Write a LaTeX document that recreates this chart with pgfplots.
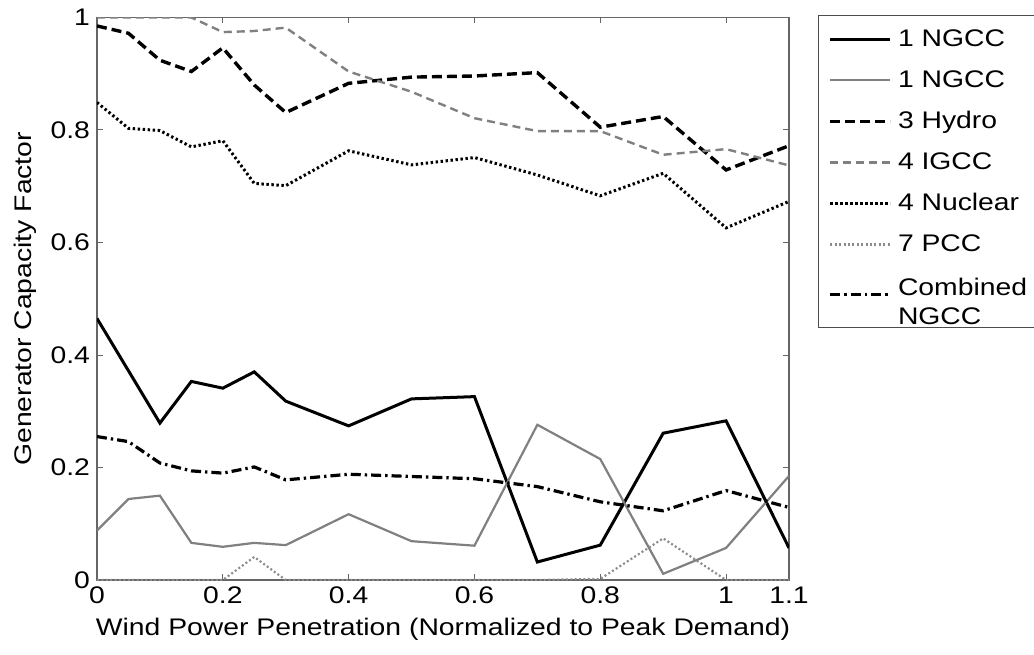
\documentclass[border=0pt]{standalone}
\usepackage{pgfplots}
\pgfplotsset{compat=1.18}
\usepackage{pgfplotstable}
\usepackage{fontspec}
\setmainfont{Liberation Sans}[FakeStretch=1.18]

\pgfplotstableread{
x     ngccA  ngccB  hydro  igcc   nuc    pcc    comb
0     0.465  0.088  0.985  1.000  0.849  0.000  0.255
0.05  0.372  0.144  0.972  1.000  0.803  0.000  0.246
0.1   0.279  0.150  0.924  1.000  0.799  0.000  0.208
0.15  0.353  0.066  0.904  1.000  0.770  0.000  0.194
0.2   0.341  0.059  0.946  0.974  0.781  0.000  0.190
0.25  0.370  0.066  0.880  0.976  0.705  0.041  0.201
0.3   0.318  0.062  0.831  0.982  0.701  0.000  0.178
0.4   0.274  0.117  0.883  0.904  0.763  0.000  0.188
0.5   0.322  0.069  0.894  0.868  0.738  0.000  0.184
0.6   0.326  0.061  0.896  0.821  0.751  0.000  0.180
0.7   0.032  0.276  0.902  0.798  0.720  0.000  0.166
0.8   0.062  0.215  0.805  0.798  0.683  0.002  0.139
0.9   0.261  0.011  0.824  0.756  0.723  0.074  0.123
1.0   0.283  0.057  0.729  0.766  0.626  0.000  0.159
1.1   0.057  0.185  0.772  0.737  0.673  0.000  0.129
}\datatable

\begin{document}
\begin{tikzpicture}
\begin{axis}[
  width=346pt, height=281.25pt, scale only axis,
  xmin=0, xmax=1.1, ymin=0, ymax=1,
  font=\fontsize{12}{14.4}\selectfont,
  /pgf/number format/assume math mode=true,
  xtick={0,0.2,0.4,0.6,0.8,1,1.1},
  xticklabels={0,0.2,0.4,0.6,0.8,1,1.1},
  ytick={0,0.2,0.4,0.6,0.8,1},
  yticklabels={0,0.2,0.4,0.6,0.8,1},
  tick align=inside,
  major tick length=3pt,
  tick style={black!60, line width=0.5pt},
  axis line style={black!60, line width=0.6pt},
  xlabel={Wind Power Penetration (Normalized to Peak Demand)},
  ylabel={Generator Capacity Factor},
  legend cell align=left,
  legend image code/.code={\draw[#1] (0pt,0pt) -- (30pt,0pt); \path (31pt,0pt);},
  legend style={at={(1,1)}, anchor=north west, xshift=14.5pt, yshift=1.25pt,
    draw=black!70, line width=0.6pt, inner xsep=5pt, inner ysep=5pt, row sep=6.5pt,
    font=\fontsize{12}{14.4}\selectfont},
]
\addplot[black, line width=1.5pt] table[x=x,y=ngccA] {\datatable};
\addlegendentry{1 NGCC}
\addplot[black!50, line width=1.1pt] table[x=x,y=ngccB] {\datatable};
\addlegendentry{1 NGCC}
\addplot[black, line width=1.7pt, dash pattern=on 5pt off 2.5pt] table[x=x,y=hydro] {\datatable};
\addlegendentry{3 Hydro}
\addplot[black!50, line width=1.2pt, dash pattern=on 4pt off 2.5pt] table[x=x,y=igcc] {\datatable};
\addlegendentry{4 IGCC}
\addplot[black, line width=1.5pt, dash pattern=on 1.2pt off 1.3pt] table[x=x,y=nuc] {\datatable};
\addlegendentry{4 Nuclear}
\addplot[black!45, line width=1.1pt, dash pattern=on 1pt off 1.2pt] table[x=x,y=pcc] {\datatable};
\addlegendentry{7 PCC}
\addplot[black, line width=1.6pt, dash pattern=on 5pt off 2pt on 1.2pt off 2pt] table[x=x,y=comb] {\datatable};
\addlegendentry{\raisebox{0pt}[\height][0pt]{\begin{tabular}{@{}l@{}}Combined\hspace{20pt}\\NGCC\end{tabular}}}
\end{axis}
\pgfresetboundingbox
\path[use as bounding box] ([shift={(-48.5pt,-37pt)}]current axis.south west) rectangle ++(517pt,327pt);
\end{tikzpicture}
\end{document}
